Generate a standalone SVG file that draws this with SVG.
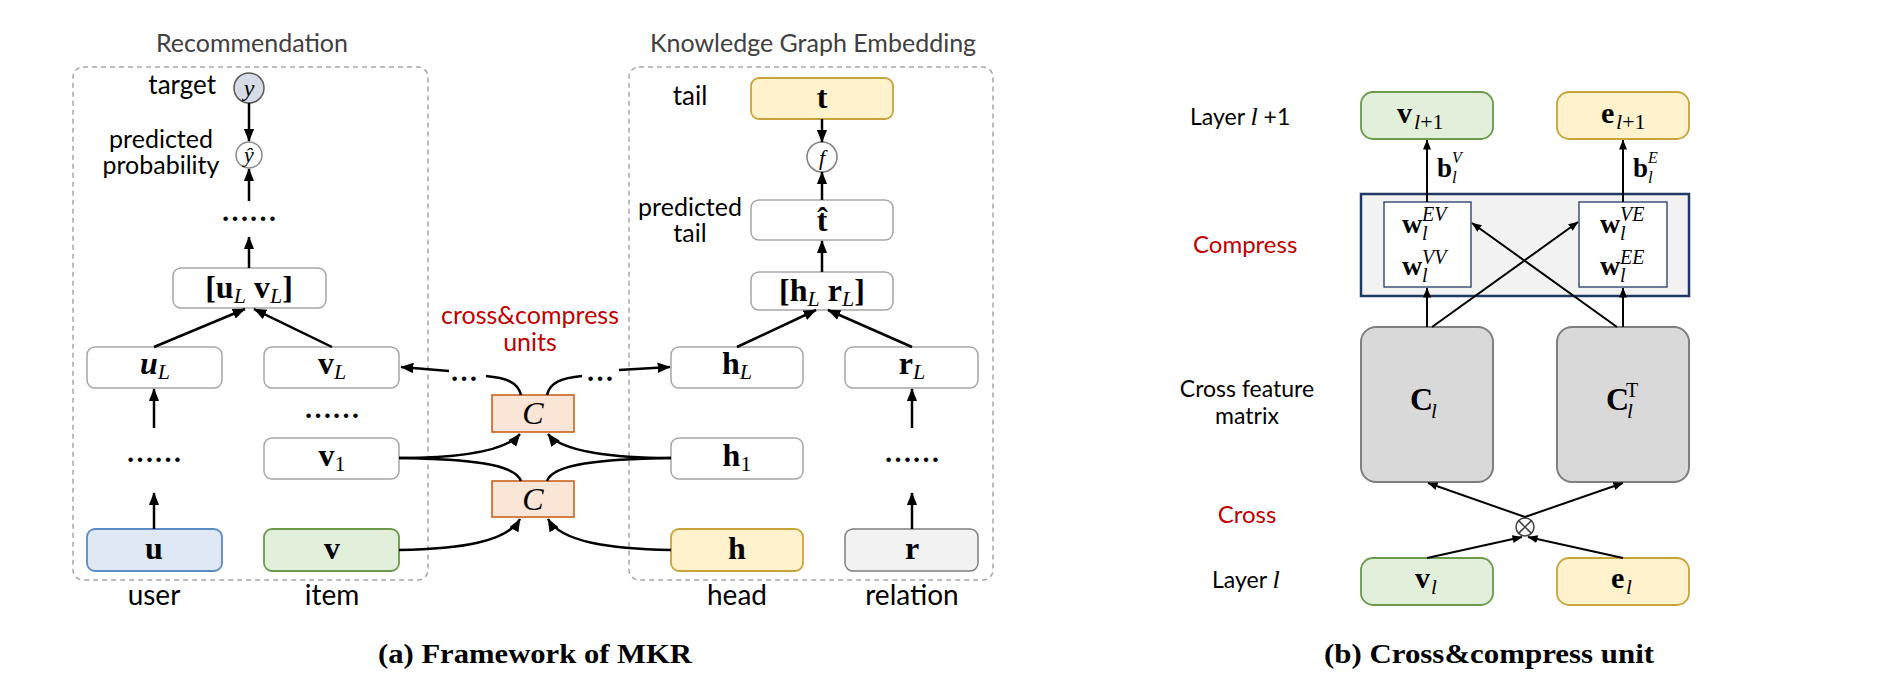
<svg xmlns="http://www.w3.org/2000/svg" width="1882" height="700" viewBox="0 0 1882 700">
<style>
.lbl{font-family:Lato,"Open Sans","Liberation Sans",sans-serif;font-size:26px;fill:#000}
.lbl2{font-family:Lato,"Open Sans","Liberation Sans",sans-serif;font-size:25px;fill:#000}
.lblR{font-family:Lato,"Open Sans","Liberation Sans",sans-serif;font-size:23px;fill:#000}
.red{fill:#c00000}
.ttl{font-family:Lato,"Open Sans","Liberation Sans",sans-serif;font-size:25px;fill:#404040}
.m{font-family:"Liberation Serif","Times New Roman",serif;font-size:32px;font-weight:bold;fill:#000}
.mr{font-family:"Liberation Serif","Times New Roman",serif;font-size:28px;font-weight:bold;fill:#000}
.it{font-style:italic;font-weight:normal}
.sub{font-family:"Liberation Serif","Times New Roman",serif;font-style:italic;font-size:21px;fill:#000}
.sm{font-family:"Liberation Serif","Times New Roman",serif;font-style:italic;font-size:20px;fill:#000}
.dots{font-family:"Liberation Serif","Times New Roman",serif;font-size:28px;font-weight:bold;fill:#000}
.cap{font-family:"Liberation Serif","Times New Roman",serif;font-size:27px;font-weight:bold;fill:#000}
.wb{fill:#fff;stroke:#a6a6a6;stroke-width:1.5}
.gr{fill:#e2efda;stroke:#6a9a4a;stroke-width:1.8}
.ye{fill:#fff2cc;stroke:#c9a43a;stroke-width:1.8}
.bl{fill:#dfe9f5;stroke:#5b8bc6;stroke-width:1.8}
.gy{fill:#f2f2f2;stroke:#7f7f7f;stroke-width:1.5}
.cc{fill:#fbe5d6;stroke:#c55a11;stroke-width:1.5}
.dash{fill:none;stroke:#a6a6a6;stroke-width:1.5;stroke-dasharray:5 4}
.cn{fill:none;stroke:#000;stroke-width:2.5}
.cn2{fill:none;stroke:#000;stroke-width:2}
</style>
<defs>
<marker id="ah" viewBox="0 0 10 8" markerWidth="13" markerHeight="11" refX="9.5" refY="4" orient="auto" markerUnits="userSpaceOnUse"><path d="M0,0 L10,4 L0,8 z" fill="#000"/></marker>
<marker id="ah2" viewBox="0 0 10 8" markerWidth="10" markerHeight="8" refX="9.5" refY="4" orient="auto" markerUnits="userSpaceOnUse"><path d="M0,0 L10,4 L0,8 z" fill="#000"/></marker>
</defs>
<rect width="1882" height="700" fill="#fff"/>

<!-- panel frames -->
<g id="rec-frame">
<rect class="dash" x="73" y="67" width="355" height="513" rx="10"/>
<text class="ttl" x="252" y="52" text-anchor="middle">Recommendation</text>
</g>
<g id="kge-frame">
<rect class="dash" x="629" y="67" width="364" height="513" rx="10"/>
<text class="ttl" x="813" y="52" text-anchor="middle">Knowledge Graph Embedding</text>
</g>

<!-- Recommendation nodes -->
<g id="target">
<circle cx="249" cy="88" r="15" fill="#d6dce5" stroke="#595959" stroke-width="1.5"/>
<text class="m it" x="249" y="96" text-anchor="middle" style="font-size:24px">y</text>
<text class="lbl" x="216" y="94" text-anchor="end">target</text>
</g>
<g id="pred-prob">
<circle cx="249" cy="155" r="13" fill="#fff" stroke="#8c8c8c" stroke-width="1.5"/>
<text class="m it" x="249" y="162" text-anchor="middle" style="font-size:22px">ŷ</text>
<text class="lbl2" x="161" y="148" text-anchor="middle">predicted</text>
<text class="lbl2" x="161" y="174" text-anchor="middle">probability</text>
</g>
<g id="rec-dots"><text class="dots" x="249" y="221" text-anchor="middle">……</text></g>
<g id="uv-concat">
<rect class="wb" x="173" y="268" width="153" height="40" rx="8"/>
<text class="m" x="249" y="298" text-anchor="middle">[u<tspan class="it" dy="5" style="font-size:22px">L</tspan><tspan dy="-5"> v</tspan><tspan class="it" dy="5" style="font-size:22px">L</tspan><tspan dy="-5">]</tspan></text>
</g>
<g id="uL">
<rect class="wb" x="87" y="347" width="135" height="41" rx="8"/>
<text class="m" x="155" y="374" text-anchor="middle" font-style="italic">u<tspan class="it" dy="5" style="font-size:22px">L</tspan></text>
</g>
<g id="vL">
<rect class="wb" x="264" y="347" width="135" height="41" rx="8"/>
<text class="m" x="332" y="374" text-anchor="middle">v<tspan class="it" dy="5" style="font-size:22px">L</tspan></text>
</g>
<g id="u-dots"><text class="dots" x="154" y="462" text-anchor="middle">……</text></g>
<g id="v-dots"><text class="dots" x="332" y="418" text-anchor="middle">……</text></g>
<g id="v1">
<rect class="wb" x="264" y="438" width="135" height="41" rx="8"/>
<text class="m" x="332" y="466" text-anchor="middle">v<tspan dy="5" style="font-size:22px;font-weight:normal">1</tspan></text>
</g>
<g id="u">
<rect class="bl" x="87" y="529" width="135" height="42" rx="8"/>
<text class="m" x="154" y="559" text-anchor="middle">u</text>
<text class="lbl" x="154" y="605" text-anchor="middle" style="font-size:28px">user</text>
</g>
<g id="v">
<rect class="gr" x="264" y="529" width="135" height="42" rx="8"/>
<text class="m" x="332" y="559" text-anchor="middle">v</text>
<text class="lbl" x="332" y="605" text-anchor="middle" style="font-size:28px">item</text>
</g>

<!-- cross&compress units -->
<g id="cc-label">
<text class="lbl2 red" x="530" y="324" text-anchor="middle">cross&amp;compress</text>
<text class="lbl2 red" x="530" y="351" text-anchor="middle">units</text>
<text class="dots" x="464" y="381" text-anchor="middle">…</text>
<text class="dots" x="600" y="381" text-anchor="middle">…</text>
</g>
<g id="C-upper">
<rect class="cc" x="492" y="395" width="82" height="37"/>
<text class="m it" x="533" y="424" text-anchor="middle">C</text>
</g>
<g id="C-lower">
<rect class="cc" x="492" y="481" width="82" height="36"/>
<text class="m it" x="533" y="510" text-anchor="middle">C</text>
</g>

<!-- KGE nodes -->
<g id="tail">
<rect class="ye" x="751" y="78" width="142" height="41" rx="8"/>
<text class="m" x="822" y="108" text-anchor="middle">t</text>
<text class="lbl" x="690" y="105" text-anchor="middle">tail</text>
</g>
<g id="f">
<circle cx="822" cy="157" r="15" fill="#fff" stroke="#7f7f7f" stroke-width="1.5"/>
<text class="m it" x="822" y="165" text-anchor="middle" style="font-size:22px">f</text>
</g>
<g id="pred-tail">
<rect class="wb" x="751" y="200" width="142" height="40" rx="8"/>
<text class="m" x="822" y="231" text-anchor="middle">t̂</text>
<text class="lbl2" x="690" y="216" text-anchor="middle">predicted</text>
<text class="lbl2" x="690" y="242" text-anchor="middle">tail</text>
</g>
<g id="hr-concat">
<rect class="wb" x="751" y="272" width="142" height="38" rx="8"/>
<text class="m" x="822" y="301" text-anchor="middle">[h<tspan class="it" dy="5" style="font-size:22px">L</tspan><tspan dy="-5"> r</tspan><tspan class="it" dy="5" style="font-size:22px">L</tspan><tspan dy="-5">]</tspan></text>
</g>
<g id="hL">
<rect class="wb" x="671" y="347" width="132" height="41" rx="8"/>
<text class="m" x="737" y="374" text-anchor="middle">h<tspan class="it" dy="5" style="font-size:22px">L</tspan></text>
</g>
<g id="rL">
<rect class="wb" x="845" y="347" width="133" height="41" rx="8"/>
<text class="m" x="912" y="374" text-anchor="middle">r<tspan class="it" dy="5" style="font-size:22px">L</tspan></text>
</g>
<g id="h1">
<rect class="wb" x="671" y="438" width="132" height="41" rx="8"/>
<text class="m" x="737" y="466" text-anchor="middle">h<tspan dy="5" style="font-size:22px;font-weight:normal">1</tspan></text>
</g>
<g id="r-dots"><text class="dots" x="912" y="462" text-anchor="middle">……</text></g>
<g id="h">
<rect class="ye" x="671" y="529" width="132" height="42" rx="8"/>
<text class="m" x="737" y="559" text-anchor="middle">h</text>
<text class="lbl" x="737" y="605" text-anchor="middle" style="font-size:28px">head</text>
</g>
<g id="r">
<rect class="gy" x="845" y="529" width="133" height="42" rx="8"/>
<text class="m" x="912" y="559" text-anchor="middle">r</text>
<text class="lbl" x="912" y="605" text-anchor="middle" style="font-size:28px">relation</text>
</g>

<!-- Right panel -->
<g id="row-labels">
<text class="lblR" x="1190" y="125">Layer <tspan class="sub" style="font-size:26px">l</tspan> +1</text>
<text class="lblR red" x="1193" y="253" style="font-size:24px">Compress</text>
<text class="lblR" x="1247" y="397" text-anchor="middle">Cross feature</text>
<text class="lblR" x="1247" y="424" text-anchor="middle">matrix</text>
<text class="lblR red" x="1247" y="523" text-anchor="middle" style="font-size:24px">Cross</text>
<text class="lblR" x="1212" y="588">Layer <tspan class="sub" style="font-size:26px">l</tspan></text>
</g>
<g id="v-next">
<rect class="gr" x="1361" y="92" width="132" height="47" rx="12"/>
<text class="mr" x="1397" y="123" style="font-size:30px">v</text>
<text class="sub" x="1414" y="129" style="font-size:22px">l<tspan style="font-style:normal">+1</tspan></text>
</g>
<g id="e-next">
<rect class="ye" x="1557" y="92" width="132" height="47" rx="12"/>
<text class="mr" x="1601" y="123" style="font-size:30px">e</text>
<text class="sub" x="1616" y="129" style="font-size:22px">l<tspan style="font-style:normal">+1</tspan></text>
</g>
<g id="bias-labels">
<text class="mr" x="1437" y="177" style="font-size:27px">b</text>
<text class="sm" x="1452" y="163" style="font-size:16px">V</text>
<text class="sm" x="1452" y="183" style="font-size:17px">l</text>
<text class="mr" x="1633" y="177" style="font-size:27px">b</text>
<text class="sm" x="1648" y="163" style="font-size:16px">E</text>
<text class="sm" x="1648" y="183" style="font-size:17px">l</text>
</g>
<g id="compress">
<rect x="1361" y="194" width="328" height="102" fill="#f2f2f2" stroke="#1f3864" stroke-width="2.5"/>
<rect x="1384" y="202" width="87" height="85" fill="#fff" stroke="#1f3864" stroke-width="1.3"/>
<rect x="1579" y="202" width="88" height="85" fill="#fff" stroke="#1f3864" stroke-width="1.3"/>
<text class="mr" x="1402" y="233" style="font-size:28px">w</text>
<text class="sm" x="1422" y="221">EV</text>
<text class="sm" x="1422" y="240">l</text>
<text class="mr" x="1402" y="275" style="font-size:28px">w</text>
<text class="sm" x="1422" y="264">VV</text>
<text class="sm" x="1422" y="282">l</text>
<text class="mr" x="1600" y="233" style="font-size:28px">w</text>
<text class="sm" x="1620" y="221">VE</text>
<text class="sm" x="1620" y="240">l</text>
<text class="mr" x="1600" y="275" style="font-size:28px">w</text>
<text class="sm" x="1620" y="264">EE</text>
<text class="sm" x="1620" y="282">l</text>
</g>
<g id="C-l">
<rect x="1361" y="327" width="132" height="155" rx="15" fill="#d9d9d9" stroke="#7f7f7f" stroke-width="2"/>
<text class="mr" x="1410" y="410" style="font-size:32px">C</text>
<text class="sm" x="1431" y="418" style="font-size:21px">l</text>
</g>
<g id="C-lT">
<rect x="1557" y="327" width="132" height="155" rx="15" fill="#d9d9d9" stroke="#7f7f7f" stroke-width="2"/>
<text class="mr" x="1606" y="410" style="font-size:32px">C</text>
<text class="sm" x="1627" y="418" style="font-size:21px">l</text>
<text class="sm" x="1626" y="397" style="font-size:20px;font-style:normal">T</text>
</g>
<g id="otimes">
<circle cx="1525" cy="527" r="9" fill="#fff" stroke="#404040" stroke-width="1.5"/>
<path d="M1518.6,520.6 L1531.4,533.4 M1531.4,520.6 L1518.6,533.4" stroke="#404040" stroke-width="1.5"/>
</g>
<g id="v-l">
<rect class="gr" x="1361" y="558" width="132" height="47" rx="12"/>
<text class="mr" x="1415" y="588" style="font-size:30px">v</text>
<text class="sm" x="1431" y="594" style="font-size:21px">l</text>
</g>
<g id="e-l">
<rect class="ye" x="1557" y="558" width="132" height="47" rx="12"/>
<text class="mr" x="1611" y="588" style="font-size:30px">e</text>
<text class="sm" x="1626" y="594" style="font-size:21px">l</text>
</g>

<g id="captions">
<text class="cap" x="378" y="663" textLength="314" lengthAdjust="spacingAndGlyphs">(a) Framework of MKR</text>
<text class="cap" x="1324" y="663" textLength="330" lengthAdjust="spacingAndGlyphs">(b) Cross&amp;compress unit</text>
</g>

<!-- connectors -->
<g id="connectors">
<line class="cn" x1="249" y1="103" x2="249" y2="141" marker-end="url(#ah)"/>
<line class="cn" x1="249" y1="201" x2="249" y2="169" marker-end="url(#ah)"/>
<line class="cn" x1="249" y1="268" x2="249" y2="237" marker-end="url(#ah)"/>
<line class="cn" x1="154" y1="347" x2="245" y2="309" marker-end="url(#ah)"/>
<line class="cn" x1="332" y1="347" x2="254" y2="309" marker-end="url(#ah)"/>
<line class="cn" x1="154" y1="428" x2="154" y2="389" marker-end="url(#ah)"/>
<line class="cn" x1="154" y1="529" x2="154" y2="493" marker-end="url(#ah)"/>

<line class="cn" x1="822" y1="119" x2="822" y2="142" marker-end="url(#ah)"/>
<line class="cn" x1="822" y1="200" x2="822" y2="172" marker-end="url(#ah)"/>
<line class="cn" x1="822" y1="272" x2="822" y2="241" marker-end="url(#ah)"/>
<line class="cn" x1="737" y1="347" x2="816" y2="310" marker-end="url(#ah)"/>
<line class="cn" x1="912" y1="347" x2="828" y2="310" marker-end="url(#ah)"/>
<line class="cn" x1="912" y1="428" x2="912" y2="389" marker-end="url(#ah)"/>
<line class="cn" x1="912" y1="529" x2="912" y2="493" marker-end="url(#ah)"/>

<path class="cn" d="M521,395 C518,382 506,378 486,376"/>
<line class="cn" x1="449" y1="371" x2="401" y2="367" marker-end="url(#ah)"/>
<path class="cn" d="M547,395 C550,382 562,378 582,376"/>
<line class="cn" x1="619" y1="370" x2="670" y2="367" marker-end="url(#ah)"/>
<path class="cn" d="M399,458 C455,458 505,452 520,434" marker-end="url(#ah)"/>
<path class="cn" d="M399,458 C470,459 515,464 521,481"/>
<path class="cn" d="M671,458 C615,458 562,452 548,434" marker-end="url(#ah)"/>
<path class="cn" d="M671,458 C600,459 553,464 547,481"/>
<path class="cn" d="M399,550 C460,549 507,542 520,519" marker-end="url(#ah)"/>
<path class="cn" d="M671,550 C610,549 561,542 548,519" marker-end="url(#ah)"/>

<line class="cn2" x1="1427" y1="202" x2="1427" y2="140" marker-end="url(#ah2)"/>
<line class="cn2" x1="1623" y1="202" x2="1623" y2="140" marker-end="url(#ah2)"/>
<line class="cn2" x1="1427" y1="327" x2="1427" y2="288" marker-end="url(#ah2)"/>
<line class="cn2" x1="1623" y1="327" x2="1623" y2="288" marker-end="url(#ah2)"/>
<line class="cn2" x1="1432" y1="327" x2="1578" y2="222" marker-end="url(#ah2)"/>
<line class="cn2" x1="1617" y1="327" x2="1472" y2="223" marker-end="url(#ah2)"/>
<line class="cn2" x1="1525" y1="517" x2="1428" y2="483" marker-end="url(#ah2)"/>
<line class="cn2" x1="1525" y1="517" x2="1623" y2="483" marker-end="url(#ah2)"/>
<line class="cn2" x1="1427" y1="558" x2="1522" y2="537" marker-end="url(#ah2)"/>
<line class="cn2" x1="1623" y1="558" x2="1528" y2="537" marker-end="url(#ah2)"/>
</g>
</svg>
